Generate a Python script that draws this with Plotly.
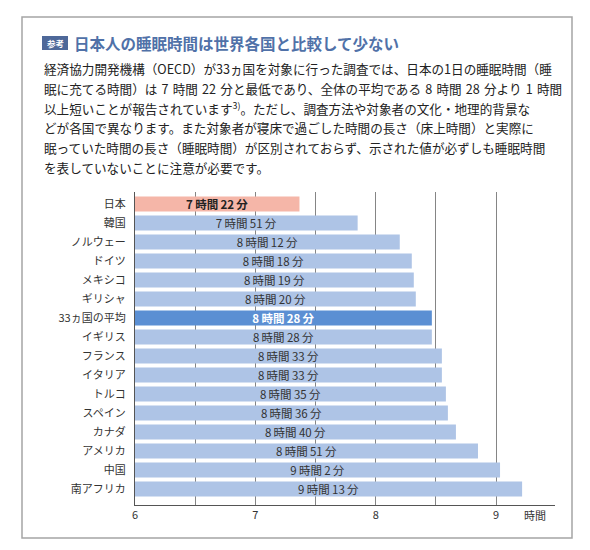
import plotly.graph_objects as go

# データ (国別の1日の睡眠時間)
countries = ["日本", "韓国", "ノルウェー", "ドイツ", "メキシコ", "ギリシャ", "33ヵ国の平均",
             "イギリス", "フランス", "イタリア", "トルコ", "スペイン", "カナダ", "アメリカ",
             "中国", "南アフリカ"]
hours = [7, 7, 8, 8, 8, 8, 8, 8, 8, 8, 8, 8, 8, 8, 9, 9]
minutes = [22, 51, 12, 18, 19, 20, 28, 28, 33, 33, 35, 36, 40, 51, 2, 13]

x_ticks = [6, 7, 8, 9]

title_text = "日本人の睡眠時間は世界各国と比較して少ない"
sp = "\u2004"
body_lines = [
    "経済協力開発機構（OECD）が33ヵ国を対象に行った調査では、日本の1日の睡眠時間（睡",
    f"眠に充てる時間）は{sp}7{sp}時間{sp}22{sp}分と最低であり、全体の平均である{sp}8{sp}時間{sp}28{sp}分より{sp}1{sp}時間",
    "以上短いことが報告されています<sup>3)</sup>。ただし、調査方法や対象者の文化・地理的背景な",
    "どが各国で異なります。また対象者が寝床で過ごした時間の長さ（床上時間）と実際に",
    "眠っていた時間の長さ（睡眠時間）が区別されておらず、示された値が必ずしも睡眠時間",
    "を表していないことに注意が必要です。",
]

FONT = "Noto Sans CJK JP"

values = [h + m / 60 for h, m in zip(hours, minutes)]
labels = []
colors = []
text_colors = []
for c, h, m in zip(countries, hours, minutes):
    t = f"{h}\u2009時間\u2009{m}\u2009分"
    if c == "日本":
        labels.append(f"<b>{t}</b>")
        colors.append("#f5b6a8")
        text_colors.append("#222222")
    elif c == "33ヵ国の平均":
        labels.append(f"<b>{t}</b>")
        colors.append("#5b8fd3")
        text_colors.append("white")
    else:
        labels.append(t)
        colors.append("#aec4e6")
        text_colors.append("#333333")

fig = go.Figure(go.Bar(
    x=[v - 6 for v in values],
    y=countries,
    orientation="h",
    base=6,
    marker=dict(color=colors, line=dict(width=0)),
    text=labels,
    textposition="inside",
    insidetextanchor="middle",
    textangle=0,
    constraintext="none",
    textfont=dict(family=FONT, size=11.5, color=text_colors),
    hoverinfo="skip",
))

# ページの余白 (8px) を差し引いて配置
OFF = 8
L, T, W, H = 135 - OFF, 192 - OFF, 420, 313


def px(xp):
    return (xp - OFF - L) / W


def py(yp):
    return (T + H - (yp - OFF)) / H


fig.update_layout(
    width=590,
    height=550,
    margin=dict(l=L, r=590 - L - W, t=T, b=550 - T - H),
    paper_bgcolor="white",
    plot_bgcolor="white",
    bargap=0.22,
    showlegend=False,
    font=dict(family=FONT, color="#333333"),
)

fig.update_xaxes(
    range=[6, 9.49],
    tickvals=x_ticks,
    ticktext=[str(v) for v in x_ticks],
    tickfont=dict(family=FONT, size=11, color="#333333"),
    showgrid=True,
    gridcolor="#858585",
    gridwidth=1.3,
    minor=dict(dtick=0.5, tick0=6, showgrid=True, gridcolor="#858585", gridwidth=1.3),
    showline=True,
    linecolor="#555555",
    linewidth=1.3,
    zeroline=False,
    ticks="",
    fixedrange=True,
)
fig.update_yaxes(
    range=[15.84, -0.63],
    tickfont=dict(family=FONT, size=11, color="#333333"),
    showline=True,
    linecolor="#555555",
    linewidth=1.3,
    showgrid=False,
    ticks="",
    ticklabelstandoff=6,
    fixedrange=True,
)

# 外枠
fig.add_shape(type="rect", xref="paper", yref="paper",
              x0=px(22), x1=px(572), y0=py(538), y1=py(17),
              line=dict(color="#a5a5a5", width=1.5), fillcolor="rgba(0,0,0,0)", layer="below")

# 参考 バッジ
fig.add_shape(type="rect", xref="paper", yref="paper",
              x0=px(42), x1=px(68), y0=py(50), y1=py(36),
              line=dict(width=0), fillcolor="#4e6899")
fig.add_annotation(xref="paper", yref="paper", x=px(55), y=py(43), text="<b>参考</b>",
                   showarrow=False, font=dict(family=FONT, size=8.5, color="white"),
                   xanchor="center", yanchor="middle")

# タイトル
fig.add_annotation(xref="paper", yref="paper", x=px(72), y=py(43), text=f"<b>{title_text}</b>",
                   showarrow=False, font=dict(family=FONT, size=15.5, color="#5071a8"),
                   xanchor="left", yanchor="middle")

# 本文
for i, line in enumerate(body_lines):
    fig.add_annotation(xref="paper", yref="paper", x=px(42), y=py(69 + 19.6 * i), text=line,
                       showarrow=False, font=dict(family=FONT, size=12.6, color="#222222"),
                       xanchor="left", yanchor="middle")

# 単位ラベル
fig.add_annotation(xref="paper", yref="paper", x=px(535), y=py(515), text="時間",
                   showarrow=False, font=dict(family=FONT, size=11, color="#333333"),
                   xanchor="center", yanchor="middle")

fig.write_html("out.html")
